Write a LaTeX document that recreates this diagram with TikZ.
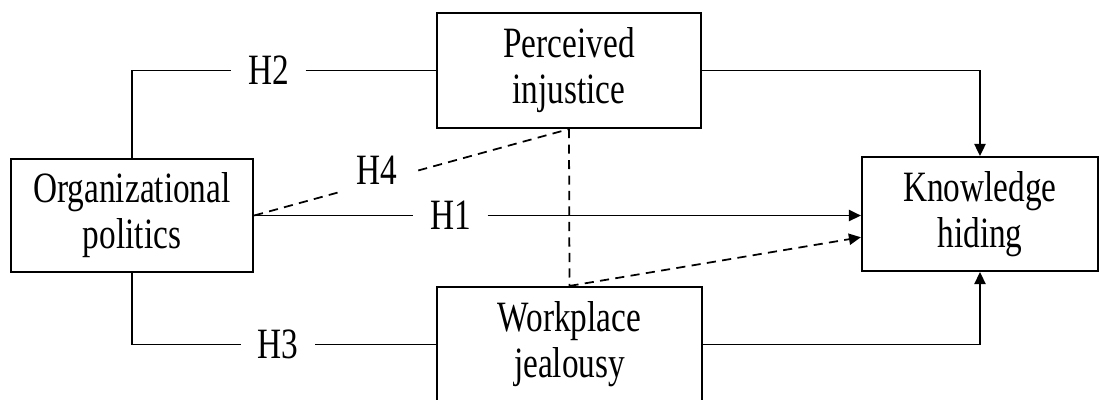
\documentclass[tikz,border=0pt]{standalone}
\usepackage{fontspec}
\setmainfont{Liberation Serif}[FakeStretch=0.77]
\usetikzlibrary{arrows.meta,calc}

\begin{document}
\begin{tikzpicture}[
  x=0.01cm, y=-0.01cm,
  var box/.style={draw,line width=0.6pt,align=center,inner sep=0pt,font=\fontsize{12.3}{13.1}\selectfont},
  hyp label/.style={inner xsep=0.16cm,inner ysep=0.06cm,font=\fontsize{12.3}{13.1}\selectfont},
  path line/.style={line width=0.5pt},
  path dashed/.style={path line,dash pattern=on 2.6pt off 1.8pt},
  hyp arrow/.style={-{Triangle[length=3.4pt,width=3.2pt]}},
  ]
  \useasboundingbox (0,0) rectangle (1099,399);

  \node[var box,minimum width=2.42cm,minimum height=1.13cm] (org) at (132,215.5) {Organizational\\politics};
  \node[var box,minimum width=2.64cm,minimum height=1.15cm] (perc) at (569,70.5) {Perceived\\injustice};
  \node[var box,minimum width=2.65cm,minimum height=1.15cm] (work) at (569.5,344.5) {Workplace\\jealousy};
  \node[var box,minimum width=2.36cm,minimum height=1.14cm] (know) at (980,214) {Knowledge\\hiding};

  \node[hyp label] (h2) at (268.5,70.5) {H2};
  \node[hyp label] (h1) at (450.5,215.5) {H1};
  \node[hyp label] (h3) at (278,344.5) {H3};

  \draw[path line] (org.north) |- (h2.west);
  \draw[path line] (h2.east) -- (perc.west);
  \draw[path line] (org.south) |- (h3.west);
  \draw[path line] (h3.east) -- (work.west);
  \draw[path line] (org.east) -- (h1.west);
  \draw[path line,hyp arrow] (h1.east) -- (h1.east -| know.west);
  \draw[path line,hyp arrow] (perc.east) -| (know.north);
  \draw[path line,hyp arrow] (work.east) -| (know.south);

  % indirect paths
  \draw[path dashed] (org.east) -- node[hyp label,pos=0.39,fill=white,inner xsep=0.175cm,inner ysep=0.08cm,yshift=0.12cm] (h4) {H4} (perc.south);
  \draw[path dashed] (perc.south) -- (work.north);
  \coordinate (kin) at ($(know.south west)!0.3!(know.north west)$);
  \draw[path dashed,hyp arrow] (work.north) -- (kin);
\end{tikzpicture}
\end{document}
